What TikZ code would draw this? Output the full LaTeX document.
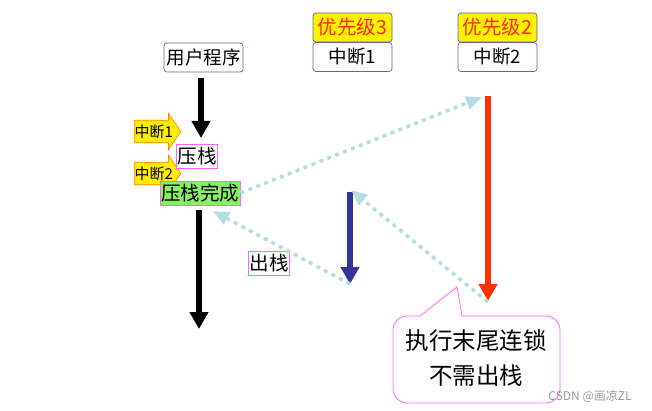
\documentclass[tikz,border=0pt]{standalone}
\usepackage{fontspec}
\setmainfont{Noto Sans CJK SC}
\usetikzlibrary{arrows.meta,shapes.arrows}
\definecolor{boxblue}{RGB}{95,95,175}
\definecolor{prioRed}{RGB}{255,45,0}
\definecolor{stackPink}{RGB}{255,100,255}
\definecolor{doneGreen}{RGB}{136,238,102}
\definecolor{tagOrange}{RGB}{255,130,0}
\definecolor{tagYellow}{RGB}{255,236,0}
\definecolor{jumpBlue}{RGB}{178,222,226}
\definecolor{nestBlue}{RGB}{51,51,153}
\definecolor{tailRed}{RGB}{255,51,0}
\begin{document}
\begin{tikzpicture}[x=1pt,y=-1pt]
    \tikzset{box/.style={draw=boxblue, rounded corners=3pt, fill=white, line width=0.7pt,
            inner sep=0pt, minimum width=79pt, minimum height=29pt, font=\fontsize{18.5}{20}\selectfont},
        prio/.style={box, fill=yellow, text=prioRed, font=\fontsize{19.5}{22}\selectfont},
        stackbox/.style={draw=stackPink, fill=white, line width=0.8pt, inner xsep=1pt, inner ysep=0pt,
            minimum height=24pt, font=\fontsize{19.5}{22}\selectfont},
        tag/.style={single arrow, draw=tagOrange, fill=tagYellow, line width=0.6pt, inner xsep=0pt, inner ysep=4pt,
            single arrow head extend=7pt, single arrow tip angle=112, font=\fontsize{15}{16}\selectfont},
        flow/.style={line width=6pt, -{Triangle[width=18pt,length=17pt]}},
        jump/.style={draw=jumpBlue, line width=3.5pt, dash pattern=on 4pt off 4.5pt,
            -{Triangle[width=13pt,length=16pt]}}}
    \useasboundingbox (0,0) rectangle (652,411);

    %Hauptprogramm
    \node[box] (user) at (203.5,57.5) {用户程序};
    \coordinate (userTop) at (201,78);
    \coordinate (userPush) at (201,138);
    \coordinate (userGo) at (199,210);
    \coordinate (userEnd) at (199,329);
    \draw[flow] (userTop) -- (userPush);
    \draw[flow] (userGo) -- (userEnd);

    \node[tag, anchor=tail] (irqA) at (134,131.5) {中断1};
    \node[tag, anchor=tail] (irqB) at (134,173.5) {中断2};
    \node[stackbox] (push) at (197,156) {压栈};
    \node[stackbox, fill=doneGreen] (pushed) at (200,193) {压栈完成};
    \node[stackbox] (pop) at (269,263.5) {出栈};

    %Interrupts
    \node[prio] (prioA) at (352.5,27.5) {优先级3};
    \node[box] (isrA) at (352.5,57) {中断1};
    \node[prio] (prioB) at (497.5,27.5) {优先级2};
    \node[box] (isrB) at (497.5,57) {中断2};

    \coordinate (nestTop) at (350,192);
    \coordinate (nestEnd) at (350,284);
    \coordinate (tailTop) at (488,96);
    \coordinate (tailEnd) at (488,301);
    \draw[flow, nestBlue] (nestTop) -- (nestEnd);
    \draw[flow, tailRed] (tailTop) -- (tailEnd);

    %Spruenge
    \coordinate (hitTail) at (482,97);
    \coordinate (hitMain) at (213,211);
    \coordinate (hitNest) at (351,190);
    \draw[jump] (pushed.east) -- (hitTail);
    \draw[jump] (nestEnd) -- (hitMain);
    \draw[jump] ([yshift=-1pt]tailEnd) -- (hitNest);

    %Sprechblase
    \draw[stackPink, line width=0.8pt] (420,316) -- (457,287) -- (462,316) [rounded corners=14pt]
        -- (560,316) -- (560,403) -- (393,403) -- (393,316) -- (420,316);
    \node[align=center, font=\fontsize{23.5}{35}\selectfont] (chain) at (476,358) {执行末尾连锁\\不需出栈};
    \node[text=black!40, font=\fontsize{12}{14}\selectfont] (csdn) at (590,396) {CSDN @画凉ZL};
\end{tikzpicture}
\end{document}
